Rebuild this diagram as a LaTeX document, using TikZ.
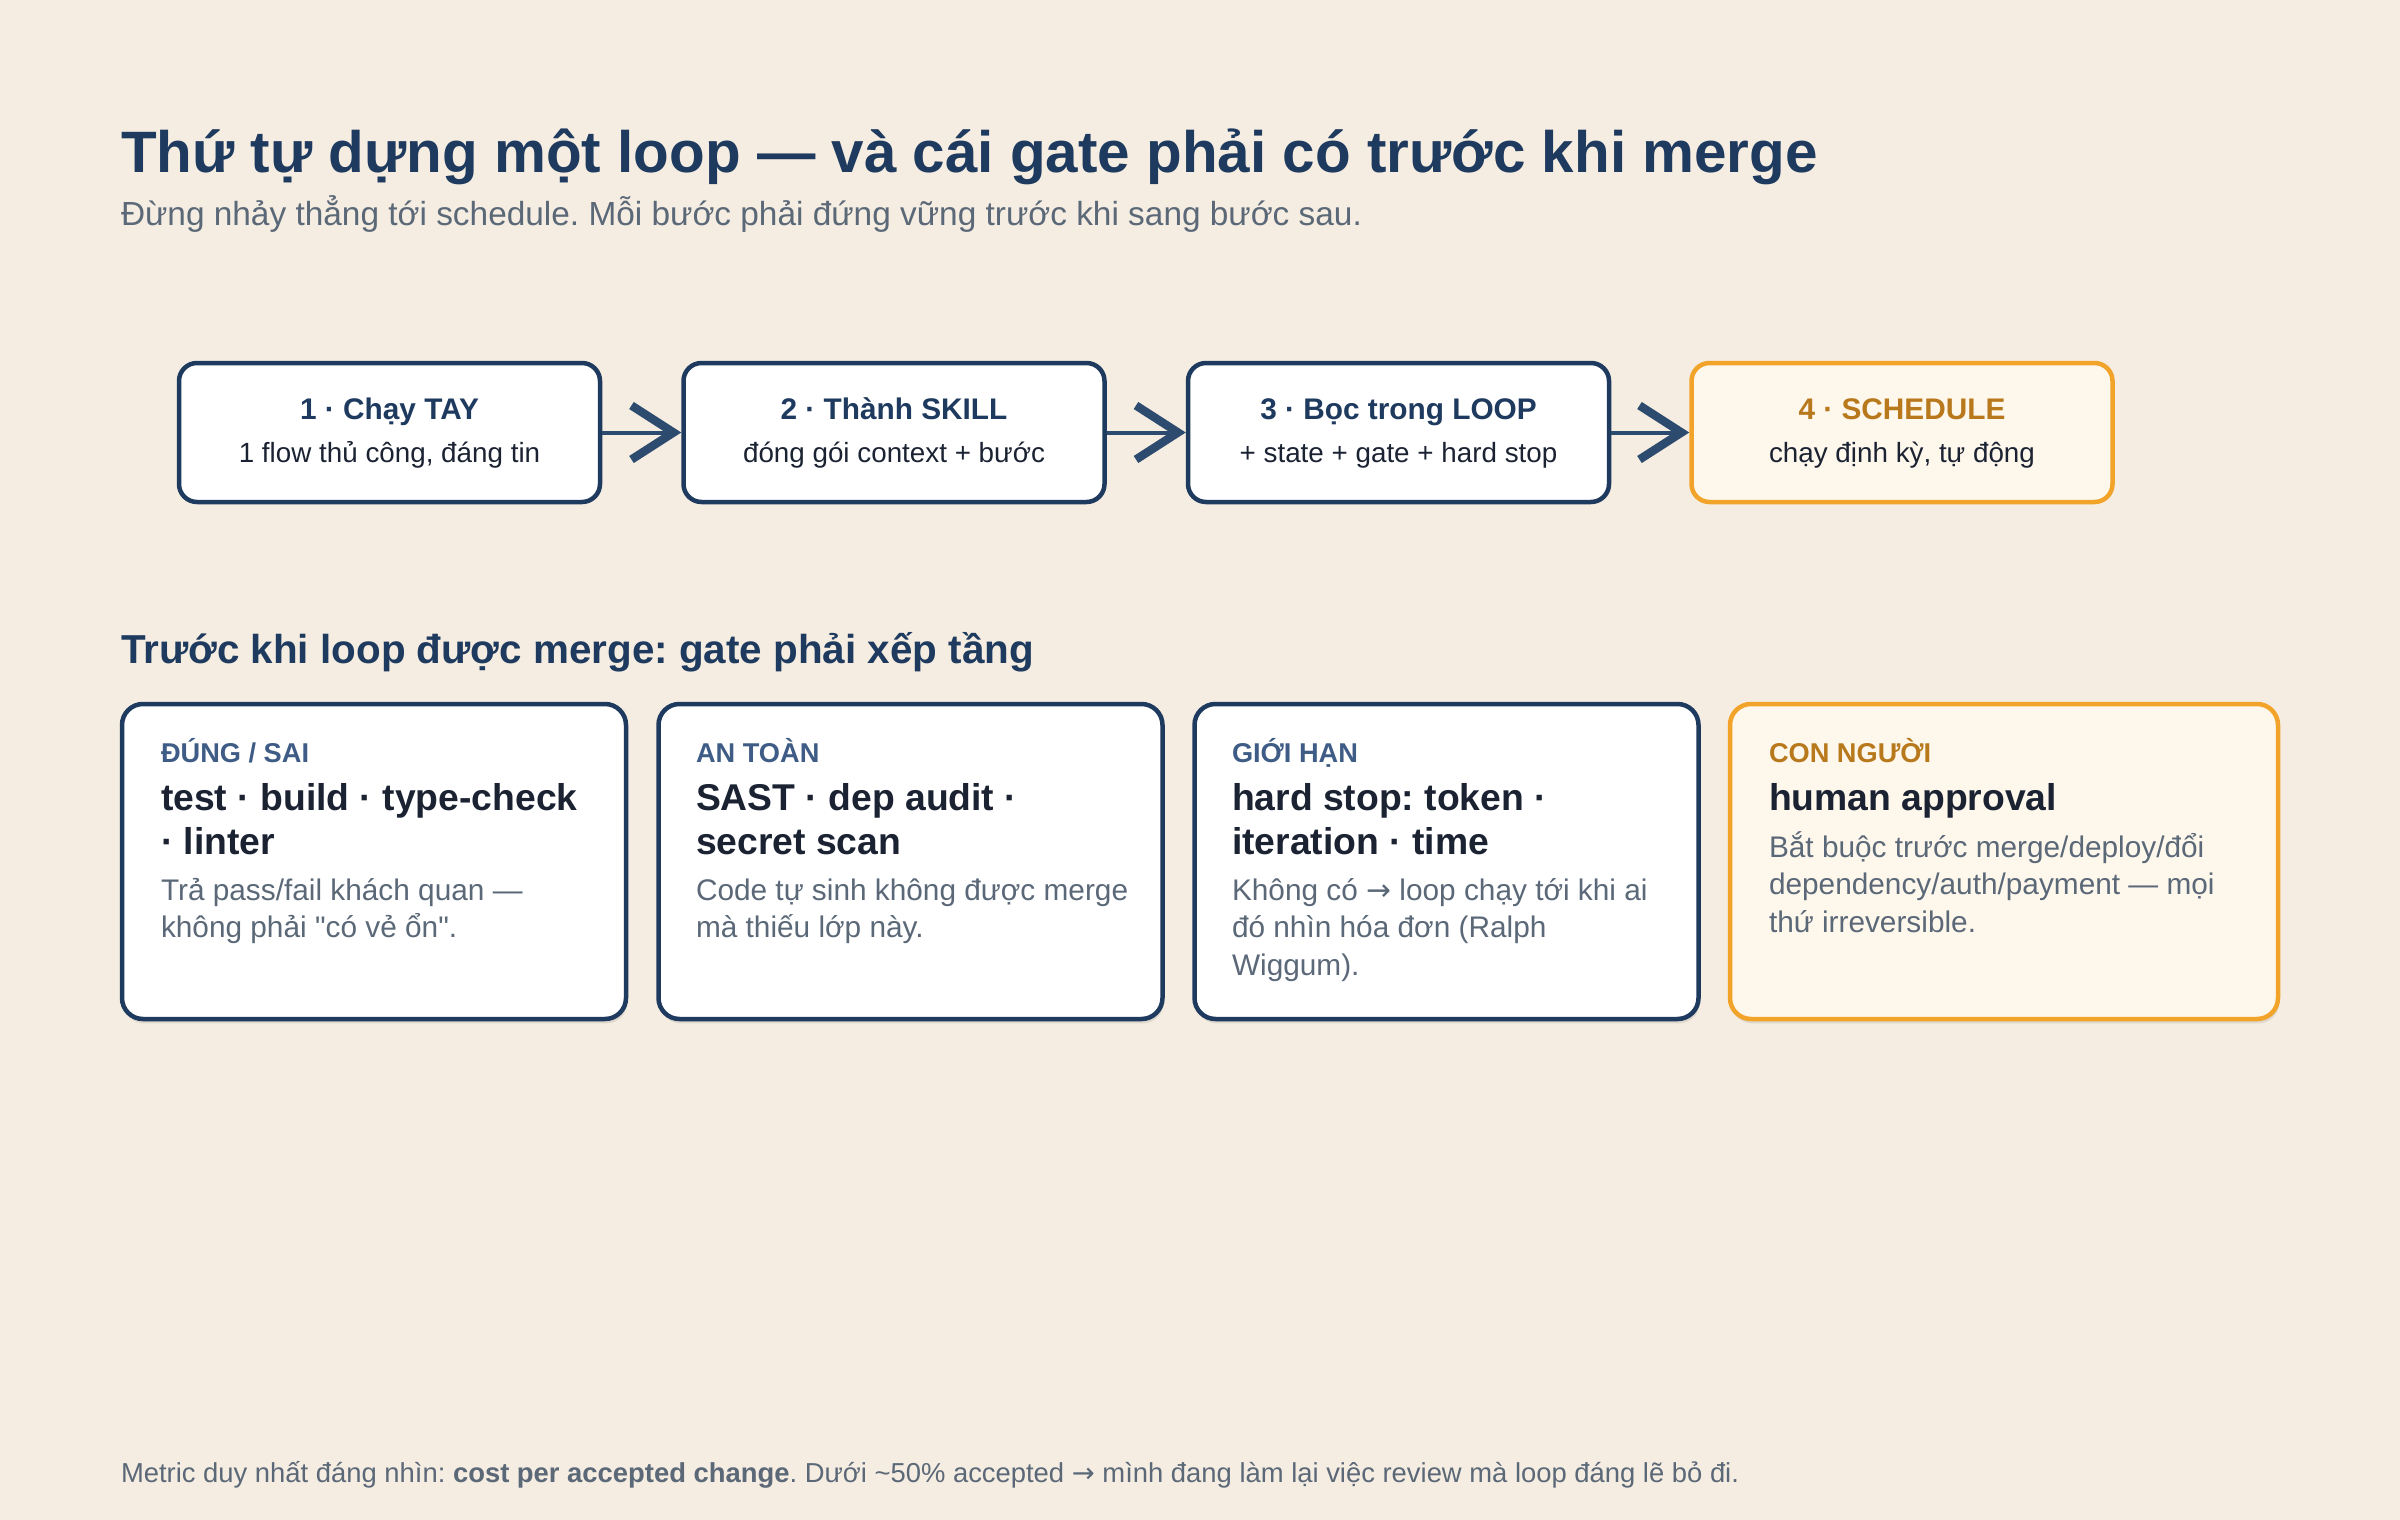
\documentclass[tikz,border=0pt]{standalone}
\usepackage{fontspec}
\setmainfont{Liberation Sans}[Ligatures=TeXOff]
\newfontfamily\arrowfont{DejaVu Sans}
\usetikzlibrary{arrows.meta,shadows}
\definecolor{bgc}{HTML}{F5EDE1}
\definecolor{navy}{HTML}{1E3A5F}
\definecolor{arrowc}{HTML}{2D4A6F}
\definecolor{labelc}{HTML}{3E5C85}
\definecolor{headc}{HTML}{1B2333}
\definecolor{descc}{HTML}{5B6878}
\definecolor{orangec}{HTML}{F2A42A}
\definecolor{orangefill}{HTML}{FEF7EC}
\definecolor{orangetext}{HTML}{B8781C}
\definecolor{shadowc}{HTML}{DDD7CD}
\newcommand{\fs}[2]{\fontsize{#1}{#2}\selectfont\frenchspacing}
\tikzset{
  stepbox/.style={draw=navy, line width=2.25pt, rounded corners=9pt, fill=white,
    minimum width=210.5pt, minimum height=69.5pt, inner sep=0pt},
  stepwarm/.style={stepbox, draw=orangec, fill=orangefill},
  card/.style={draw=navy, line width=2.25pt, rounded corners=10.5pt, fill=white,
    minimum width=252pt, minimum height=157.5pt, inner sep=0pt,
    drop shadow={shadow xshift=0.6pt, shadow yshift=-2.2pt, fill=shadowc, opacity=1}},
  cardwarm/.style={card, draw=orangec, fill=orangefill, minimum width=274pt},
  txt/.style={anchor=base west, inner sep=0pt, outer sep=0pt},
  ctxt/.style={anchor=base, inner sep=0pt, outer sep=0pt},
  flow/.style={draw=arrowc, line width=2pt,
    -{Straight Barb[length=21pt, width=27pt, line width=4.2pt]}},
  steptitle/.style={ctxt, font=\fs{14.9pt}{18pt}\bfseries, text=navy},
  stepsub/.style={ctxt, font=\fs{13.9pt}{17pt}, text=headc},
  cardlabel/.style={txt, font=\fs{13.6pt}{15pt}\bfseries, text=labelc},
  cardhead/.style={txt, font=\fs{18.65pt}{22pt}\bfseries, text=headc, align=left},
  carddesc/.style={txt, font=\fs{14.9pt}{18.75pt}, text=descc, align=left},
}
\begin{document}
\frenchspacing
\begin{tikzpicture}[x=0.5pt, y=-0.5pt]
\useasboundingbox (0,0) rectangle (2400,1520);
\fill[bgc] (0,0) rectangle (2400,1520);

% titles
\node[txt, font=\fs{29.2pt}{36pt}\bfseries, text=navy] (title) at (121,172)
  {Thứ tự dựng một loop — và cái gate phải có trước khi merge};
\node[txt, font=\fs{16.7pt}{20pt}, text=descc] (subtitle) at (121,225)
  {Đừng nhảy thẳng tới schedule. Mỗi bước phải đứng vững trước khi sang bước sau.};

% steps
\node[stepbox] (b1) at (389.5,432.5) {};
\node[stepbox] (b2) at (894,432.5) {};
\node[stepbox] (b3) at (1398.5,432.5) {};
\node[stepwarm] (b4) at (1902,432.5) {};

\node[steptitle] (b1t) at (389.5,419) {1 · Chạy TAY};
\node[stepsub] (b1s) at (389.5,462) {1 flow thủ công, đáng tin};
\node[steptitle] (b2t) at (894,419) {2 · Thành SKILL};
\node[stepsub] (b2s) at (894,462) {đóng gói context + bước};
\node[steptitle] (b3t) at (1398.5,419) {3 · Bọc trong LOOP};
\node[stepsub] (b3s) at (1398.5,462) {+ state + gate + hard stop};
\node[steptitle, text=orangetext] (b4t) at (1902,419) {4 · SCHEDULE};
\node[stepsub] (b4s) at (1902,462) {chạy định kỳ, tự động};

\draw[flow] (b1.east) -- (b2.west);
\draw[flow] (b2.east) -- (b3.west);
\draw[flow] (b3.east) -- (b4.west);

% section heading
\node[txt, font=\fs{20.2pt}{26pt}\bfseries, text=navy] (sec) at (121,663)
  {Trước khi loop được merge: gate phải xếp tầng};

% cards
\node[card] (c1) at (374,861.5) {};
\node[card] (c2) at (910.5,861.5) {};
\node[card] (c3) at (1446.5,861.5) {};
\node[cardwarm] (c4) at (2004,861.5) {};

% multi-line text nodes: anchor base = baseline of last line
\node[cardlabel] (c1l) at (161,762) {ĐÚNG / SAI};
\node[cardhead] (c1h) at (161,854) {test · build · type-check\\· linter};
\node[carddesc] (c1d) at (161,937.5) {Trả pass/fail khách quan —\\không phải "có vẻ ổn".};

\node[cardlabel] (c2l) at (696,762) {AN TOÀN};
\node[cardhead] (c2h) at (696,854) {SAST · dep audit ·\\secret scan};
\node[carddesc] (c2d) at (696,937.5) {Code tự sinh không được merge\\mà thiếu lớp này.};

\node[cardlabel] (c3l) at (1232,762) {GIỚI HẠN};
\node[cardhead] (c3h) at (1232,854) {hard stop: token ·\\iteration · time};
\node[carddesc] (c3d) at (1232,975) {Không có {\arrowfont →} loop chạy tới khi ai\\đó nhìn hóa đơn (Ralph\\Wiggum).};

\node[cardlabel, text=orangetext] (c4l) at (1769,762) {CON NGƯỜI};
\node[cardhead] (c4h) at (1769,810) {human approval};
\node[carddesc] (c4d) at (1769,932) {Bắt buộc trước merge/deploy/đổi\\dependency/auth/payment — mọi\\thứ irreversible.};

% footer
\node[txt, font=\fs{13.7pt}{16pt}, text=descc] (foot) at (121,1482)
  {Metric duy nhất đáng nhìn: \textbf{cost per accepted change}. Dưới \textasciitilde50\% accepted {\arrowfont →} mình đang làm lại việc review mà loop đáng lẽ bỏ đi.};
\end{tikzpicture}
\end{document}
